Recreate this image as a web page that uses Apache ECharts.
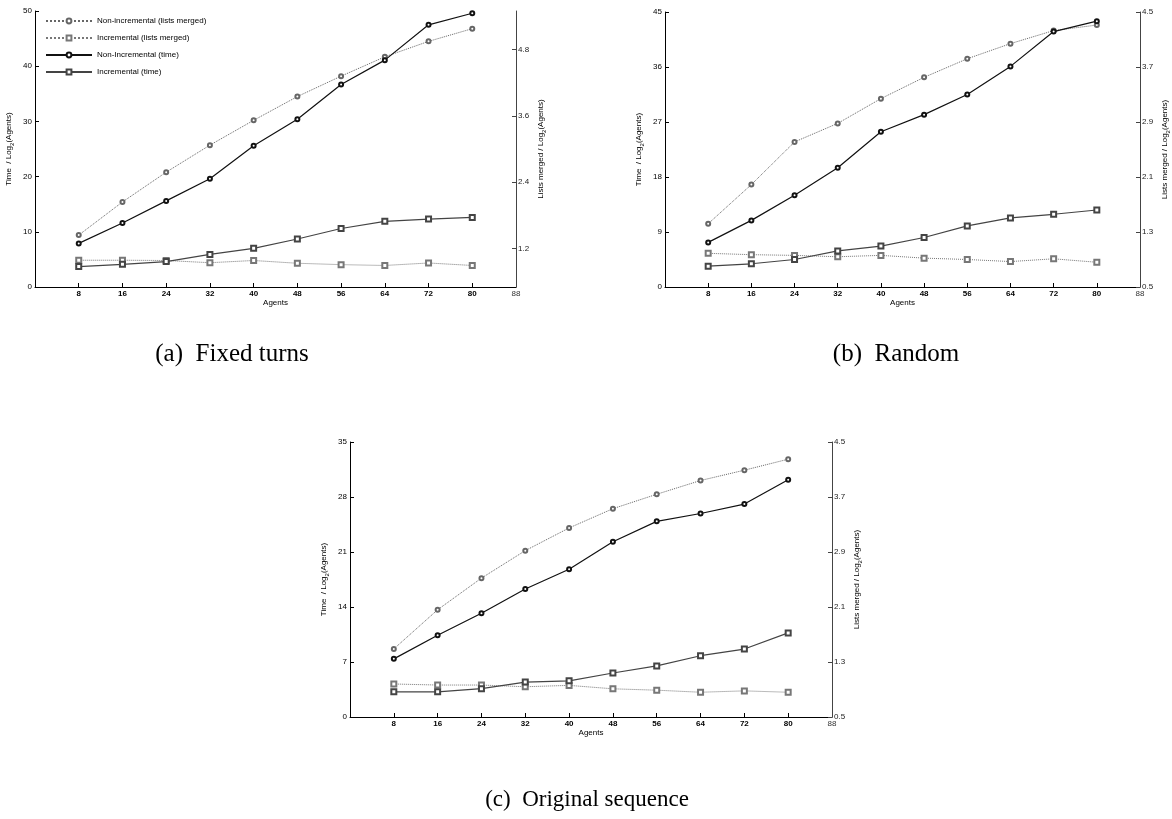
<!DOCTYPE html>
<html>
<head>
<meta charset="utf-8">
<script src="https://cdn.jsdelivr.net/npm/echarts@6/dist/echarts.min.js"></script>
<style>
html,body{margin:0;padding:0;background:#fff;}
#chart{width:1172px;height:819px;}
</style>
</head>
<body>
<div id="chart"></div>
<script>
// ---- data ----
const agents = [8, 16, 24, 32, 40, 48, 56, 64, 72, 80];
const xTickLabels = [8, 16, 24, 32, 40, 48, 56, 64, 72, 80, 88];

const seriesNames = [
  'Non-incremental (lists merged)',
  'Incremental (lists merged)',
  'Non-Incremental (time)',
  'Incremental (time)'
];

// (a) Fixed turns
const aMergedNonInc = [1.44, 2.04, 2.58, 3.07, 3.52, 3.95, 4.32, 4.67, 4.95, 5.18];
const aMergedInc    = [0.985, 0.985, 0.98, 0.94, 0.98, 0.93, 0.905, 0.89, 0.935, 0.89];
const aTimeNonInc   = [7.9, 11.6, 15.6, 19.6, 25.6, 30.4, 36.7, 41.1, 47.5, 49.6];
const aTimeInc      = [3.7, 4.1, 4.6, 5.9, 7.0, 8.7, 10.6, 11.9, 12.3, 12.6];

// (b) Random
const bMergedNonInc = [1.42, 1.99, 2.61, 2.88, 3.24, 3.55, 3.82, 4.04, 4.23, 4.31];
const bMergedInc    = [0.99, 0.97, 0.96, 0.94, 0.96, 0.92, 0.90, 0.87, 0.91, 0.86];
const bTimeNonInc   = [7.3, 10.9, 15.0, 19.5, 25.4, 28.2, 31.5, 36.1, 41.8, 43.5];
const bTimeInc      = [3.4, 3.8, 4.5, 5.9, 6.7, 8.1, 10.0, 11.3, 11.9, 12.6];

// (c) Original sequence
const cMergedNonInc = [1.49, 2.06, 2.52, 2.92, 3.25, 3.53, 3.74, 3.94, 4.09, 4.25];
const cMergedInc    = [0.98, 0.965, 0.965, 0.94, 0.96, 0.91, 0.89, 0.86, 0.88, 0.86];
const cTimeNonInc   = [7.4, 10.4, 13.2, 16.3, 18.8, 22.3, 24.9, 25.9, 27.1, 30.2];
const cTimeInc      = [3.2, 3.2, 3.6, 4.45, 4.6, 5.6, 6.5, 7.8, 8.65, 10.7];

// axis ticks
const aLeftTicks  = [0, 10, 20, 30, 40, 50];
const aRightTicks = [1.2, 2.4, 3.6, 4.8];
const bLeftTicks  = [0, 9, 18, 27, 36, 45];
const bRightTicks = [0.5, 1.3, 2.1, 2.9, 3.7, 4.5];
const cLeftTicks  = [0, 7, 14, 21, 28, 35];
const cRightTicks = [0.5, 1.3, 2.1, 2.9, 3.7, 4.5];

const captions = ['(a)  Fixed turns', '(b)  Random', '(c)  Original sequence'];

// ---- chart ----
const FONT = 'Liberation Sans';
const panels = [
  {grid: {left: 35, top: 11, width: 481, height: 276}, left: {min: 0, max: 50, ticks: aLeftTicks}, right: {min: 0.5, max: 5.5, ticks: aRightTicks},
   data: [aMergedNonInc, aMergedInc, aTimeNonInc, aTimeInc]},
  {grid: {left: 665, top: 12, width: 483, height: 275}, left: {min: 0, max: 45, ticks: bLeftTicks}, right: {min: 0.5, max: 4.5, ticks: bRightTicks},
   data: [bMergedNonInc, bMergedInc, bTimeNonInc, bTimeInc]},
  {grid: {left: 350, top: 442, width: 482, height: 275}, left: {min: 0, max: 35, ticks: cLeftTicks}, right: {min: 0.5, max: 4.5, ticks: cRightTicks},
   data: [cMergedNonInc, cMergedInc, cTimeNonInc, cTimeInc]}
];

const nameRich = {
  t: {fontSize: 8, fontFamily: FONT, color: '#000', lineHeight: 12, verticalAlign: 'middle'},
  s: {fontSize: 6, fontFamily: FONT, color: '#000', lineHeight: 12, verticalAlign: 'bottom'}
};

const grids = [], xAxes = [], yAxes = [], series = [];
panels.forEach((p, i) => {
  grids.push(Object.assign({containLabel: false}, p.grid));
  xAxes.push({
    type: 'value', gridIndex: i, min: 0, max: 88, interval: 8,
    name: 'Agents', nameLocation: 'middle', nameGap: 10,
    nameTextStyle: {fontFamily: FONT, fontSize: 8, color: '#000'},
    axisLine: {show: true, onZero: false, lineStyle: {color: '#000', width: 1}},
    axisTick: {show: true, inside: true, length: 4, customValues: agents, lineStyle: {color: '#000'}},
    axisLabel: {
      customValues: xTickLabels, margin: 3,
      formatter: v => (v === 88 ? '{n|' + v + '}' : '{b|' + v + '}'),
      rich: {
        b: {fontFamily: FONT, fontSize: 8, fontWeight: 'bold', color: '#000'},
        n: {fontFamily: FONT, fontSize: 8, color: '#333'}
      }
    },
    splitLine: {show: false}
  });
  yAxes.push({
    type: 'value', gridIndex: i, position: 'left', min: p.left.min, max: p.left.max,
    interval: p.left.ticks[1] - p.left.ticks[0],
    name: '{t|Time  / Log}{s|2}{t|(Agents)}', nameLocation: 'middle', nameGap: 20, nameRotate: 90,
    nameTextStyle: {rich: nameRich},
    axisLine: {show: true, lineStyle: {color: '#000', width: 1}},
    axisTick: {show: true, inside: true, length: 4, customValues: p.left.ticks, lineStyle: {color: '#000'}},
    axisLabel: {customValues: p.left.ticks, margin: 3, fontFamily: FONT, fontSize: 8, color: '#000'},
    splitLine: {show: false}
  });
  yAxes.push({
    type: 'value', gridIndex: i, position: 'right', min: p.right.min, max: p.right.max,
    name: '{t|Lists merged / Log}{s|2}{t|(Agents)}', nameLocation: 'middle', nameGap: 19, nameRotate: 90,
    nameTextStyle: {rich: nameRich},
    axisLine: {show: true, lineStyle: {color: '#444', width: 1}},
    axisTick: {show: true, inside: true, length: 4, customValues: p.right.ticks, lineStyle: {color: '#444'}},
    axisLabel: {customValues: p.right.ticks, margin: 2, fontFamily: FONT, fontSize: 8, color: '#222',
      formatter: v => String(v)},
    splitLine: {show: false}
  });
  const styles = [
    {symbol: 'emptyCircle', symbolSize: 4, color: '#666', type: 'dotted', width: 1, yIdx: 1, z: 2},
    {symbol: 'emptyRect', symbolSize: 5, color: '#777', type: 'dotted', width: 1, yIdx: 1, z: 2},
    {symbol: 'emptyCircle', symbolSize: 4, color: '#111', type: 'solid', width: 1.2, yIdx: 0, z: 4},
    {symbol: 'emptyRect', symbolSize: 5, color: '#444', type: 'solid', width: 1.2, yIdx: 0, z: 3}
  ];
  p.data.forEach((vals, k) => {
    const st = styles[k];
    series.push({
      name: seriesNames[k], type: 'line',
      xAxisIndex: i, yAxisIndex: i * 2 + st.yIdx,
      data: agents.map((a, j) => [a, vals[j]]),
      symbol: st.symbol, symbolSize: st.symbolSize, showAllSymbol: true,
      lineStyle: {color: st.color, type: st.type, width: st.width},
      itemStyle: {color: st.color, borderColor: st.color, borderWidth: 0.8},
      z: st.z, animation: false, silent: true
    });
  });
});

const option = {
  backgroundColor: '#fff',
  animation: false,
  grid: grids,
  xAxis: xAxes,
  yAxis: yAxes,
  series: series,
  legend: {
    data: seriesNames, orient: 'vertical', left: 40, top: 12,
    itemWidth: 46, itemHeight: 6, itemGap: 9,
    textStyle: {fontFamily: FONT, fontSize: 8, color: '#000'},
    selectedMode: false
  },
  graphic: [
    {type: 'text', x: 232, y: 354, style: {text: captions[0], fontFamily: 'Liberation Serif', fontSize: 25, fill: '#000', align: 'center', verticalAlign: 'middle'}},
    {type: 'text', x: 896, y: 354, style: {text: captions[1], fontFamily: 'Liberation Serif', fontSize: 25, fill: '#000', align: 'center', verticalAlign: 'middle'}},
    {type: 'text', x: 587, y: 800, style: {text: captions[2], fontFamily: 'Liberation Serif', fontSize: 23, fill: '#000', align: 'center', verticalAlign: 'middle'}}
  ]
};

const chart = echarts.init(document.getElementById('chart'), null, {renderer: 'canvas'});
chart.setOption(option);
</script>
</body>
</html>
